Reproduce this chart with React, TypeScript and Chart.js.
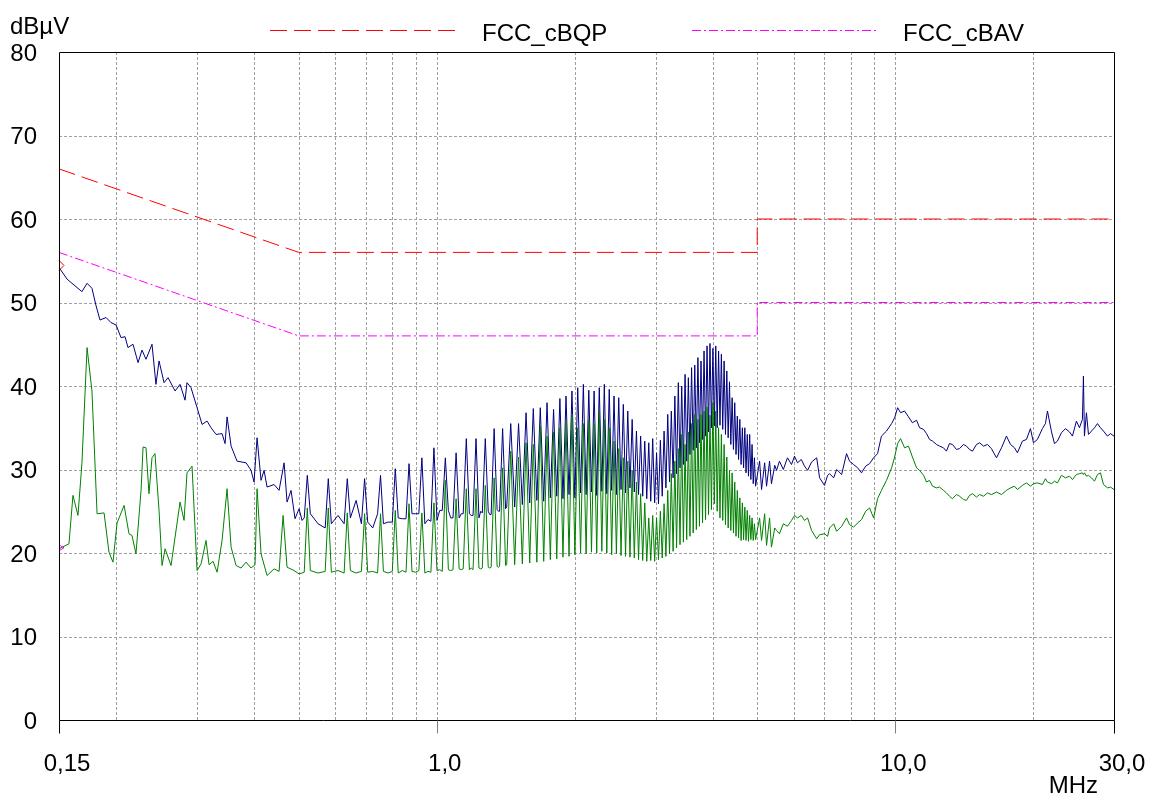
import { useEffect, useRef } from "react";
import { Chart, registerables } from "chart.js";

Chart.register(...registerables);

// ---------- axes ----------
const X_MIN = 0.15;
const X_MAX = 30;
const Y_MIN = 0;
const Y_MAX = 80;
const X_GRID = [0.2, 0.3, 0.4, 0.5, 0.6, 0.7, 0.8, 0.9, 1, 2, 3, 4, 5, 6, 7, 8, 9, 10, 20];
const X_TICKS = [0.15, 1, 10, 30];
const X_TICK_LABELS = ["0,15", "1,0", "10,0", "30,0"];
const Y_TICKS = [0, 10, 20, 30, 40, 50, 60, 70, 80];
const Y_TICK_LABELS = ["0", "10", "20", "30", "40", "50", "60", "70", "80"];

// ---------- limit lines ----------
const qpLimitFreq = [0.15, 0.5, 5, 5, 30];
const qpLimitLevel = [66, 56, 56, 60, 60];
const avLimitFreq = [0.15, 0.5, 5, 5, 30];
const avLimitLevel = [56, 46, 46, 50, 50];

// ---------- peak trace, 0.15 - 0.51 MHz ----------
const peakLowFreq = [
  0.150, 0.1562, 0.1683, 0.1727, 0.1770, 0.1807, 0.1843, 0.1900, 0.1947, 0.1998,
  0.2048, 0.2090, 0.2121, 0.2175, 0.2231, 0.2276, 0.2322, 0.2393, 0.2441, 0.2479,
  0.2542, 0.2594, 0.2687, 0.2755, 0.2825, 0.2853, 0.2911, 0.3001, 0.3077, 0.3155,
  0.3219, 0.3301, 0.3402, 0.3454, 0.3489, 0.3560, 0.3668, 0.3838, 0.3935, 0.3995,
  0.4056, 0.4138, 0.4201, 0.4265, 0.4418, 0.4530, 0.4646, 0.4715, 0.4811, 0.4908,
  0.5008, 0.5084,
];
const peakLowLevel = [
  54.2, 52.8, 51.3, 52.3, 51.7, 49.6, 47.9, 48.2, 47.6, 47.3,
  45.8, 45.9, 44.6, 45.0, 42.8, 44.3, 43.2, 45.0, 40.2, 43.0,
  40.4, 41.0, 39.4, 40.2, 38.3, 40.4, 39.8, 37.4, 35.4, 35.8,
  35.0, 34.2, 34.3, 33.1, 36.3, 32.8, 31.0, 30.8, 29.9, 28.5,
  33.8, 28.7, 29.9, 27.9, 28.2, 27.5, 30.8, 26.1, 27.5, 24.1,
  25.3, 23.9,
];

// ---------- average trace, 0.15 - 0.51 MHz ----------
const avgLowFreq = [
  0.150, 0.1577, 0.1609, 0.1650, 0.1683, 0.1727, 0.1770, 0.1816, 0.1881, 0.1928,
  0.1967, 0.2008, 0.2080, 0.2132, 0.2164, 0.2208, 0.2265, 0.2288, 0.2322, 0.2357,
  0.2393, 0.2429, 0.2479, 0.2517, 0.2555, 0.2633, 0.2755, 0.2811, 0.2853, 0.2926,
  0.3001, 0.3062, 0.3139, 0.3187, 0.3252, 0.3318, 0.3402, 0.3489, 0.3560, 0.3650,
  0.3742, 0.3838, 0.3935, 0.4015, 0.4056, 0.4138, 0.4265, 0.4418, 0.4530, 0.4622,
  0.4715, 0.4884, 0.5008, 0.5084,
];
const avgLowLevel = [
  20.5, 21.1, 26.9, 24.5, 30.7, 44.6, 39.4, 24.7, 24.8, 20.1,
  18.9, 23.6, 25.7, 22.3, 22.1, 19.9, 27.5, 32.7, 32.6, 27.1,
  31.4, 31.9, 25.1, 18.5, 20.5, 18.5, 26.1, 23.9, 29.6, 30.4,
  17.9, 18.7, 21.5, 18.6, 19.0, 17.7, 21.5, 27.7, 20.7, 18.5,
  18.2, 18.9, 18.2, 18.6, 27.7, 19.9, 17.3, 18.1, 17.8, 24.5,
  18.3, 17.9, 17.5, 17.6,
];

// ---------- harmonic comb, 0.51 - 4.96 MHz (shared frequencies) ----------
const combFreq = [
  0.514, 0.522, 0.530, 0.551, 0.571, 0.580, 0.589, 0.609,
  0.628, 0.638, 0.648, 0.667, 0.685, 0.696, 0.707, 0.725,
  0.743, 0.754, 0.765, 0.783, 0.800, 0.812, 0.824, 0.841,
  0.857, 0.870, 0.883, 0.899, 0.914, 0.928, 0.942, 0.957,
  0.971, 0.986, 1.001, 1.015, 1.028, 1.044, 1.060, 1.073,
  1.085, 1.102, 1.119, 1.131, 1.142, 1.160, 1.178, 1.189,
  1.200, 1.218, 1.236, 1.247, 1.257, 1.276, 1.295, 1.305,
  1.314, 1.334, 1.354, 1.363, 1.371, 1.392, 1.413, 1.421,
  1.450, 1.479, 1.508, 1.537, 1.566, 1.595, 1.624, 1.653, 1.682, 1.711,
  1.740, 1.769, 1.798, 1.827, 1.856, 1.885, 1.914, 1.943, 1.972, 2.001,
  2.030, 2.059, 2.088, 2.117, 2.146, 2.175, 2.204, 2.233, 2.262, 2.291,
  2.320, 2.349, 2.378, 2.407, 2.436, 2.465, 2.494, 2.523, 2.552, 2.581,
  2.610, 2.639, 2.668, 2.697, 2.726, 2.755, 2.784, 2.813, 2.842, 2.871,
  2.900, 2.929, 2.958, 2.987, 3.016, 3.045, 3.074, 3.103, 3.132, 3.161,
  3.190, 3.219, 3.248, 3.277, 3.306, 3.335, 3.364, 3.393, 3.422, 3.451,
  3.480, 3.509, 3.538, 3.567, 3.596, 3.625, 3.654, 3.683, 3.712, 3.741,
  3.770, 3.799, 3.828, 3.857, 3.886, 3.915, 3.944, 3.973, 4.002, 4.031,
  4.060, 4.089, 4.118, 4.147, 4.176, 4.205, 4.234, 4.263, 4.292, 4.321,
  4.350, 4.379, 4.408, 4.437, 4.466, 4.495, 4.524, 4.553, 4.582, 4.611,
  4.640, 4.669, 4.698, 4.727, 4.756, 4.785, 4.814, 4.843, 4.872, 4.901,
  4.930, 4.959,
];
const combPeak = [
  24.2, 29.3, 24.7, 23.5, 23.0, 28.9, 23.5, 24.5,
  23.5, 28.9, 24.2, 26.3, 23.5, 28.9, 23.7, 23.0,
  24.7, 29.3, 23.5, 23.7, 23.7, 30.1, 24.2, 24.1,
  24.1, 30.7, 24.7, 24.7, 24.7, 31.4, 23.5, 24.0,
  23.8, 32.6, 23.9, 25.1, 25.1, 31.4, 25.1, 24.2,
  24.2, 32.0, 24.2, 24.7, 24.7, 33.7, 24.7, 24.5,
  24.5, 33.7, 24.2, 25.0, 24.8, 33.7, 25.0, 24.6,
  24.6, 34.9, 25.2, 25.0, 25.0, 34.9, 25.3, 25.5,
  35.5, 25.5, 35.5, 25.8, 36.8, 26.0, 37.3, 26.3, 37.4, 26.2,
  38.0, 26.6, 37.2, 26.8, 38.5, 26.5, 38.8, 27.0, 39.4, 26.6,
  39.8, 27.2, 40.2, 27.0, 39.5, 27.3, 39.4, 26.9, 39.8, 27.4,
  40.2, 27.1, 39.6, 27.5, 38.8, 27.0, 38.6, 27.6, 37.8, 27.2,
  37.0, 27.8, 36.0, 27.3, 34.6, 27.0, 34.0, 26.8, 33.4, 26.5,
  33.2, 26.2, 33.7, 26.0, 32.0, 25.9, 33.5, 26.8, 34.6, 27.8,
  36.6, 28.5, 37.0, 29.0, 38.8, 29.5, 40.4, 30.2, 40.0, 30.6,
  41.4, 31.0, 41.0, 31.8, 42.2, 32.3, 42.5, 32.6, 43.4, 33.2,
  43.0, 33.6, 44.2, 34.0, 44.8, 34.5, 45.1, 35.0, 44.5, 35.2,
  44.8, 35.0, 44.2, 35.3, 43.8, 34.8, 43.0, 34.2, 41.8, 33.8,
  40.5, 33.0, 38.6, 32.4, 38.0, 31.8, 36.4, 31.2, 36.0, 30.6,
  35.0, 30.2, 35.0, 29.6, 34.2, 29.2, 34.2, 28.8, 33.0, 28.3,
  31.4, 28.0,
];
const combAvg = [
  17.7, 25.4, 17.9, 17.6, 17.8, 25.4, 17.7, 17.9,
  17.6, 24.8, 17.9, 17.6, 17.8, 24.7, 17.7, 17.8,
  17.6, 24.7, 17.8, 17.6, 17.8, 25.1, 17.6, 17.9,
  17.7, 25.9, 17.8, 17.7, 17.9, 24.8, 17.6, 17.8,
  17.7, 26.0, 17.9, 18.0, 17.8, 28.7, 18.0, 17.9,
  18.0, 26.5, 18.1, 18.0, 18.1, 27.7, 18.0, 18.2,
  18.0, 27.7, 18.2, 18.1, 18.2, 28.1, 18.3, 18.2,
  18.3, 29.0, 18.4, 18.3, 18.4, 30.2, 18.5, 18.6,
  32.2, 18.6, 31.5, 18.7, 33.2, 18.8, 33.0, 18.9, 35.2, 19.0,
  34.0, 19.2, 34.5, 19.3, 35.0, 19.5, 35.8, 19.6, 36.6, 19.8,
  35.0, 20.0, 35.5, 19.9, 36.0, 20.1, 35.5, 20.0, 37.0, 20.2,
  36.0, 20.0, 35.0, 19.8, 33.4, 19.9, 32.5, 19.7, 31.4, 19.6,
  31.0, 19.5, 29.9, 19.4, 28.5, 19.2, 27.1, 19.1, 26.0, 19.0,
  24.2, 19.1, 24.5, 19.0, 24.2, 19.2, 25.0, 19.4, 25.9, 19.6,
  27.5, 19.9, 29.5, 20.2, 31.0, 20.6, 32.5, 21.0, 34.2, 21.3,
  33.0, 21.6, 34.5, 22.0, 35.5, 22.4, 36.6, 22.8, 36.0, 23.2,
  36.6, 23.6, 37.0, 24.0, 37.5, 24.6, 36.5, 25.2, 38.0, 25.9,
  37.0, 25.0, 35.0, 24.2, 34.2, 23.9, 33.0, 23.4, 31.5, 23.0,
  29.9, 22.7, 29.6, 22.4, 28.5, 22.0, 27.5, 21.8, 26.6, 21.5,
  26.0, 21.6, 25.5, 21.5, 25.1, 21.4, 24.5, 21.6, 24.2, 21.5,
  23.5, 21.6,
];

// ---------- 5 - 30 MHz (shared frequencies) ----------
const highFreq = [
  5.06, 5.11, 5.19, 5.24, 5.32, 5.37, 5.46, 5.51, 5.59, 5.70,
  5.82, 5.94, 6.03, 6.12, 6.24, 6.34, 6.44, 6.57, 6.74, 6.84,
  7.01, 7.12, 7.19, 7.34, 7.45, 7.64, 7.83, 7.95, 8.11, 8.28,
  8.44, 8.62, 8.79, 8.97, 9.15, 9.33, 9.57, 9.82, 9.97, 10.12,
  10.27, 10.48, 10.69, 10.90, 11.13, 11.30, 11.53, 11.70, 11.88, 12.06,
  12.30, 12.49, 12.74, 12.93, 13.13, 13.33, 13.60, 13.81, 14.09, 14.30,
  14.52, 14.74, 15.04, 15.27, 15.58, 15.89, 16.21, 16.63, 17.05, 17.48,
  17.84, 18.20, 18.47, 18.94, 19.33, 19.72, 20.02, 20.42, 20.94, 21.26,
  21.48, 21.92, 22.25, 22.58, 23.04, 23.51, 23.99, 24.35, 24.84, 25.22,
  25.60, 25.73, 25.86, 26.12, 26.39, 26.79, 27.20, 27.61, 28.03, 28.46,
  29.03, 29.47, 30.0,
];
const highPeak = [
  31.0, 27.6, 30.8, 28.0, 31.0, 28.3, 30.5, 29.9, 31.0, 30.0,
  31.4, 30.6, 31.6, 30.8, 31.2, 30.4, 29.9, 30.9, 31.4, 29.0,
  28.1, 29.3, 29.5, 29.0, 30.0, 29.4, 31.9, 31.0, 30.6, 30.2,
  29.6, 30.4, 30.7, 31.4, 31.9, 34.0, 34.6, 35.5, 36.2, 37.4,
  36.8, 37.0, 36.3, 35.6, 35.9, 35.0, 34.8, 34.3, 33.6, 33.4,
  33.0, 32.8, 32.6, 32.2, 33.1, 33.0, 32.4, 32.5, 33.0, 32.8,
  32.4, 32.2, 33.0, 33.2, 32.8, 33.0, 32.5, 31.4, 32.6, 34.0,
  33.0, 32.6, 32.0, 33.4, 33.6, 34.9, 33.2, 33.6, 34.9, 35.5,
  37.0, 34.5, 33.1, 33.4, 34.4, 34.9, 34.5, 34.0, 35.8, 35.0,
  36.0, 41.2, 34.0, 36.8, 34.2, 34.6, 35.0, 35.5, 35.0, 34.6,
  34.0, 34.3, 34.0,
];
const highAvg = [
  24.2, 21.5, 24.7, 20.9, 24.2, 20.7, 23.0, 22.7, 22.3, 23.5,
  23.2, 23.9, 24.5, 24.2, 24.5, 23.9, 24.2, 22.7, 21.7, 22.2,
  22.3, 22.0, 23.0, 23.5, 22.6, 23.2, 24.2, 23.4, 23.1, 23.6,
  24.0, 25.0, 25.4, 24.2, 26.5, 27.5, 28.7, 30.2, 31.5, 33.1,
  33.7, 32.6, 32.8, 31.5, 30.2, 29.9, 29.3, 28.5, 28.7, 28.0,
  27.8, 27.9, 27.5, 27.2, 26.8, 26.5, 27.0, 26.8, 26.4, 26.3,
  26.9, 27.1, 26.7, 27.0, 26.8, 27.2, 27.0, 27.3, 27.0, 27.5,
  27.8, 28.0, 27.6, 28.1, 28.4, 28.0, 28.3, 28.4, 28.2, 28.9,
  28.5, 28.3, 28.6, 28.4, 29.3, 29.0, 29.2, 28.8, 29.4, 29.5,
  29.6, 29.4, 29.6, 29.2, 29.3, 29.0, 28.6, 29.4, 29.6, 28.2,
  27.8, 27.9, 27.6,
];

function zip(freq: number[], level: number[]) {
  return freq.map((x, i) => ({ x, y: level[i] }));
}

const peakData = [
  ...zip(peakLowFreq, peakLowLevel),
  ...zip(combFreq, combPeak),
  ...zip(highFreq, highPeak),
];
const avgData = [
  ...zip(avgLowFreq, avgLowLevel),
  ...zip(combFreq, combAvg),
  ...zip(highFreq, highAvg),
];

const FONT = '24px Arial, "Liberation Sans", sans-serif';
const QP_COLOR = "#ff0000";
const AV_COLOR = "#ff00ff";
const QP_DASH = [17, 7];
const AV_DASH = [9, 3, 2, 3];

const framePlugin = {
  id: "emiFrame",
  beforeDatasetsDraw(chart: any) {
    const { ctx, chartArea: a, scales } = chart;
    const xs = scales.x;
    const ys = scales.y;
    ctx.save();
    ctx.strokeStyle = "#a0a0a0";
    ctx.lineWidth = 1;
    ctx.setLineDash([3, 2]);
    for (const v of X_GRID) {
      const px = Math.round(xs.getPixelForValue(v)) + 0.5;
      ctx.beginPath();
      ctx.moveTo(px, a.top);
      ctx.lineTo(px, a.bottom);
      ctx.stroke();
    }
    for (const v of Y_TICKS) {
      if (v === Y_MIN || v === Y_MAX) continue;
      const py = Math.round(ys.getPixelForValue(v)) + 0.5;
      ctx.beginPath();
      ctx.moveTo(a.left, py);
      ctx.lineTo(a.right, py);
      ctx.stroke();
    }
    ctx.restore();
  },
  afterDatasetsDraw(chart: any) {
    const { ctx, chartArea: a, scales } = chart;
    const xs = scales.x;
    const ys = scales.y;
    const l = Math.round(a.left) + 0.5;
    const r = Math.round(a.right) + 0.5;
    const t = Math.round(a.top) + 0.5;
    const b = Math.round(a.bottom) + 0.5;
    ctx.save();
    ctx.setLineDash([]);
    ctx.lineWidth = 1;

    // start markers of the two measured traces
    const mx = xs.getPixelForValue(peakLowFreq[0]);
    const myPk = ys.getPixelForValue(peakLowLevel[0]) - 2;
    const myAv = ys.getPixelForValue(avgLowLevel[0]) - 1;
    ctx.strokeStyle = QP_COLOR;
    ctx.beginPath();
    ctx.moveTo(mx, myPk - 5);
    ctx.lineTo(mx + 5, myPk);
    ctx.lineTo(mx, myPk + 5);
    ctx.stroke();
    ctx.strokeStyle = AV_COLOR;
    ctx.beginPath();
    ctx.moveTo(mx, myAv - 3);
    ctx.lineTo(mx + 5, myAv);
    ctx.lineTo(mx, myAv + 3);
    ctx.stroke();

    ctx.strokeStyle = "#000";
    ctx.beginPath();
    ctx.moveTo(l, t);
    ctx.lineTo(r, t);
    ctx.lineTo(r, b);
    ctx.lineTo(l, b);
    ctx.closePath();
    ctx.stroke();

    // x ticks
    X_TICKS.forEach((v, i) => {
      const px = Math.round(xs.getPixelForValue(v)) + 0.5;
      const edge = i === 0 || i === X_TICKS.length - 1;
      ctx.strokeStyle = edge ? "#000" : "#808080";
      ctx.beginPath();
      ctx.moveTo(px, b);
      ctx.lineTo(px, b + 13);
      ctx.stroke();
    });

    ctx.fillStyle = "#000";
    ctx.font = FONT;
    ctx.textBaseline = "alphabetic";
    // y labels
    ctx.textAlign = "right";
    Y_TICKS.forEach((v, i) => {
      const py = ys.getPixelForValue(v);
      ctx.fillText(Y_TICK_LABELS[i], 37, py + 8.5);
    });
    // x labels
    ctx.textAlign = "center";
    X_TICKS.forEach((v, i) => {
      const px = xs.getPixelForValue(v);
      ctx.fillText(X_TICK_LABELS[i], px + 8, 771);
    });
    ctx.textAlign = "right";
    ctx.fillText("MHz", 1098, 793);
    ctx.textAlign = "left";
    ctx.fillText("dBµV", 10, 34);

    // legend
    ctx.strokeStyle = QP_COLOR;
    ctx.setLineDash(QP_DASH);
    ctx.beginPath();
    ctx.moveTo(270, 30.5);
    ctx.lineTo(457, 30.5);
    ctx.stroke();
    ctx.strokeStyle = AV_COLOR;
    ctx.setLineDash(AV_DASH);
    ctx.beginPath();
    ctx.moveTo(692, 30.5);
    ctx.lineTo(879, 30.5);
    ctx.stroke();
    ctx.setLineDash([]);
    ctx.fillText("FCC_cBQP", 482, 41);
    ctx.fillText("FCC_cBAV", 903, 41);
    ctx.restore();
  },
};

export default function App() {
  const ref = useRef<HTMLCanvasElement>(null);
  useEffect(() => {
    const canvas = ref.current;
    if (!canvas) return;
    const chart = new Chart(canvas, {
      type: "line",
      data: {
        datasets: [
          {
            label: "FCC_cBQP",
            data: zip(qpLimitFreq, qpLimitLevel),
            borderColor: QP_COLOR,
            borderWidth: 1,
            borderDash: QP_DASH,
            pointRadius: 0,
            tension: 0,
            fill: false,
            order: 0,
          },
          {
            label: "FCC_cBAV",
            data: zip(avLimitFreq, avLimitLevel),
            borderColor: AV_COLOR,
            borderWidth: 1,
            borderDash: AV_DASH,
            pointRadius: 0,
            tension: 0,
            fill: false,
            order: 1,
          },
          {
            label: "Average",
            data: avgData,
            borderColor: "#008000",
            borderWidth: 1,
            pointRadius: 0,
            tension: 0,
            fill: false,
            order: 2,
          },
          {
            label: "Peak",
            data: peakData,
            borderColor: "#000080",
            borderWidth: 1,
            pointRadius: 0,
            tension: 0,
            fill: false,
            order: 3,
          },
        ],
      },
      options: {
        animation: false,
        responsive: false,
        maintainAspectRatio: false,
        devicePixelRatio: 1,
        events: [],
        layout: { padding: { left: 59, right: 50, top: 52, bottom: 81 } },
        scales: {
          x: { type: "logarithmic", min: X_MIN, max: X_MAX, display: false },
          y: { type: "linear", min: Y_MIN, max: Y_MAX, display: false },
        },
        plugins: {
          legend: { display: false },
          tooltip: { enabled: false },
          title: { display: false },
        },
      },
      plugins: [framePlugin],
    } as any);
    return () => chart.destroy();
  }, []);
  return (
    <div style={{ position: "absolute", left: 0, top: 0, width: 1164, height: 801, background: "#fff" }}>
      <canvas ref={ref} width={1164} height={801} style={{ display: "block", width: 1164, height: 801 }} />
    </div>
  );
}
